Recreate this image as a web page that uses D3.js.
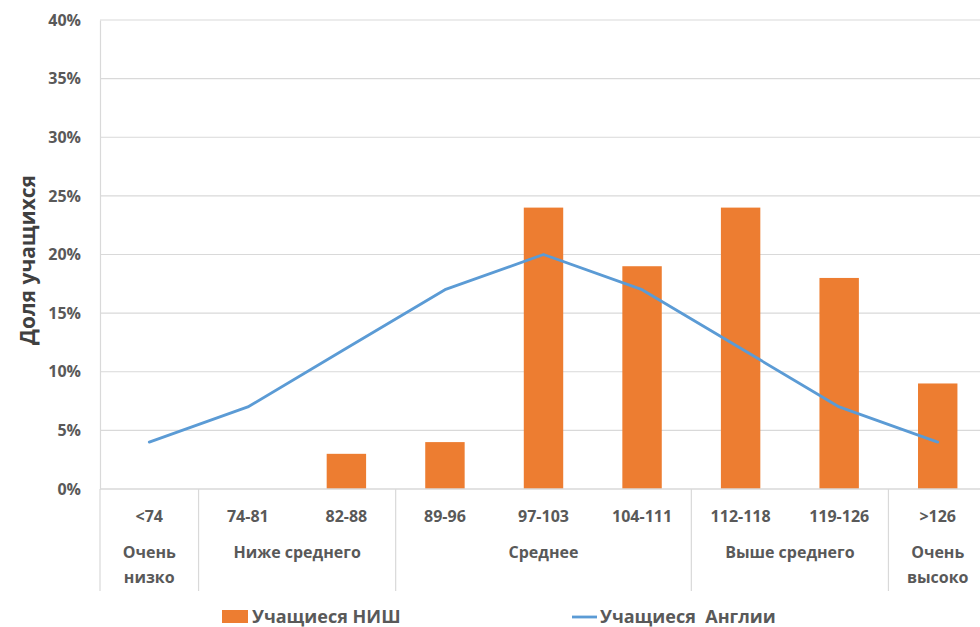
<!DOCTYPE html>
<html>
<head>
<meta charset="utf-8">
<script src="https://cdn.jsdelivr.net/npm/d3@7/dist/d3.min.js"></script>
<style>
  html, body { margin: 0; padding: 0; background: #fff; }
  svg { display: block; }
  text { font-family: "Open Sans", "Noto Sans", sans-serif; }
</style>
</head>
<body>
<svg id="chart" width="980" height="627"></svg>
<script>
// IQ-score bands and their rating groups
const categories = ["<74", "74-81", "82-88", "89-96", "97-103", "104-111", "112-118", "119-126", ">126"];
const groups = [
  { label: ["Очень", "низко"], from: 0, to: 1 },
  { label: ["Ниже среднего"], from: 1, to: 3 },
  { label: ["Среднее"], from: 3, to: 6 },
  { label: ["Выше среднего"], from: 6, to: 8 },
  { label: ["Очень", "высоко"], from: 8, to: 9 }
];
// Share of students per band, in percent
const nishValues = [0, 0, 3, 4, 24, 19, 24, 18, 9];
const englandValues = [4, 7, 12, 17, 20, 17, 12, 7, 4];
const yTicks = [0, 5, 10, 15, 20, 25, 30, 35, 40];
const seriesNames = ["Учащиеся НИШ", "Учащиеся  Англии"];

const svg = d3.select("#chart");
const plotLeft = 100, plotRight = 987, plotTop = 20, plotBottom = 489;
const textColor = "#595959";
const gridColor = "#d9d9d9";
const barColor = "#ed7d31";
const lineColor = "#5b9bd5";

const x = d3.scaleBand().domain(categories).range([plotLeft, plotRight]).paddingInner(0).paddingOuter(0);
const y = d3.scaleLinear().domain([0, 40]).range([plotBottom, plotTop]);

// Horizontal gridlines
svg.append("g").selectAll("line").data(yTicks.filter(d => d > 0)).join("line")
  .attr("x1", plotLeft).attr("x2", 980)
  .attr("y1", d => y(d)).attr("y2", d => y(d))
  .attr("stroke", gridColor).attr("stroke-width", 1.2);

// Y axis tick labels
const yAxis = d3.axisLeft(y).tickValues(yTicks).tickFormat(d => d + "%").tickSize(0).tickPadding(19);
const yg = svg.append("g").attr("transform", `translate(${plotLeft},0)`).call(yAxis);
yg.select(".domain").attr("stroke", gridColor).attr("stroke-width", 1.2);
yg.selectAll("text")
  .attr("fill", textColor).attr("font-size", 16).attr("font-weight", 700)
  .attr("font-family", "'Open Sans', sans-serif");

// Y axis title
svg.append("text")
  .attr("transform", `translate(35,260) rotate(-90)`)
  .attr("text-anchor", "middle")
  .attr("fill", "#404040").attr("font-size", 21).attr("font-weight", 700)
  .text("Доля учащихся");

// Bars
const barW = x.bandwidth() * 0.4;
svg.append("g").selectAll("rect").data(categories.map((c, i) => ({ c, v: nishValues[i] })).filter(d => d.v > 0))
  .join("rect")
  .attr("x", d => x(d.c) + (x.bandwidth() - barW) / 2)
  .attr("y", d => y(d.v))
  .attr("width", barW)
  .attr("height", d => y(0) - y(d.v))
  .attr("fill", barColor);

// Line series
const line = d3.line()
  .x((d, i) => x(categories[i]) + x.bandwidth() / 2)
  .y(d => y(d));
svg.append("path").datum(englandValues)
  .attr("d", line)
  .attr("fill", "none").attr("stroke", lineColor).attr("stroke-width", 2.8)
  .attr("stroke-linejoin", "round").attr("stroke-linecap", "round");

// Category axis baseline
svg.append("line")
  .attr("x1", plotLeft).attr("x2", 980).attr("y1", plotBottom).attr("y2", plotBottom)
  .attr("stroke", gridColor).attr("stroke-width", 1.4);

// Group separators
const sepBounds = [0].concat(groups.map(g => g.to)).filter(i => i < categories.length);
svg.append("g").selectAll("line").data(sepBounds).join("line")
  .attr("x1", i => plotLeft + i * x.step()).attr("x2", i => plotLeft + i * x.step())
  .attr("y1", plotBottom).attr("y2", 591)
  .attr("stroke", gridColor).attr("stroke-width", 1.2);

// Category labels
svg.append("g").selectAll("text").data(categories).join("text")
  .attr("x", d => x(d) + x.bandwidth() / 2)
  .attr("y", 522)
  .attr("text-anchor", "middle")
  .attr("fill", textColor).attr("font-size", 16).attr("font-weight", 700)
  .text(d => d);

// Group labels
const gl = svg.append("g").selectAll("text").data(groups).join("text")
  .attr("text-anchor", "middle")
  .attr("fill", textColor).attr("font-size", 16).attr("font-weight", 700);
gl.each(function (g) {
  const cx = plotLeft + (g.from + g.to) / 2 * x.step();
  d3.select(this).selectAll("tspan").data(g.label).join("tspan")
    .attr("x", cx)
    .attr("y", (d, i) => 558 + i * 25)
    .text(d => d);
});

// Legend
const lg = svg.append("g");
lg.append("rect").attr("x", 222).attr("y", 610).attr("width", 26).attr("height", 13).attr("fill", barColor);
lg.append("text").attr("x", 252).attr("y", 623)
  .attr("fill", textColor).attr("font-size", 18).attr("font-weight", 700)
  .text(seriesNames[0]);
lg.append("line").attr("x1", 572).attr("x2", 597).attr("y1", 617).attr("y2", 617)
  .attr("stroke", lineColor).attr("stroke-width", 2.8);
lg.append("text").attr("x", 600).attr("y", 623)
  .attr("fill", textColor).attr("font-size", 18).attr("font-weight", 700)
  .style("white-space", "pre")
  .text(seriesNames[1]);
</script>
</body>
</html>
